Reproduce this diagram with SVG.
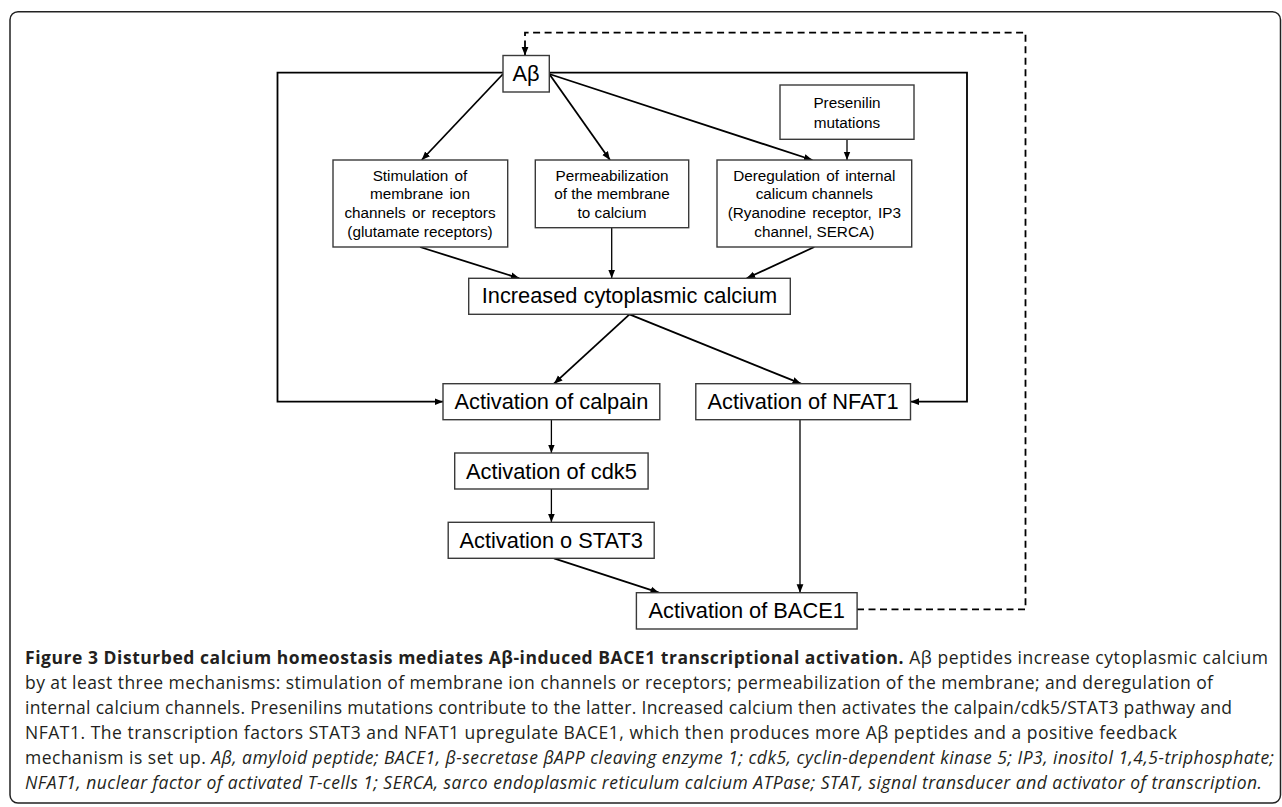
<svg xmlns="http://www.w3.org/2000/svg" width="1282" height="807" viewBox="0 0 1282 807">
<defs>
<marker id="ah" markerWidth="10" markerHeight="8" refX="8.5" refY="4" orient="auto" markerUnits="userSpaceOnUse"><path d="M0,0.6 L8.5,4 L0,7.4 z" fill="#000"/></marker>
<style>
.frame{fill:#fff;stroke:#222;stroke-width:1.5}
.box{fill:#fff;stroke:#3a3a3a;stroke-width:1.4}
.t{font-family:"Liberation Sans",Arial,sans-serif;fill:#000;text-anchor:middle}
.big{font-size:21.8px}
.sm{font-size:15.3px}
.ws{word-spacing:2px}
.c{fill:none;stroke:#000;stroke-width:1.8}
.thin{stroke-width:1.3}
.dash{stroke-dasharray:7 4.5}
.cap{font-family:"Open Sans","Noto Sans",sans-serif;font-size:17.5px;fill:#231f20}
.b{font-weight:bold}
.i{font-style:italic}
</style>
</defs>
<rect class="frame" x="10" y="11.7" width="1270.5" height="791.3" rx="8"/>
<g id="connectors">
<path class="c" d="M503,74 L421.7,160" marker-end="url(#ah)"/>
<path class="c" d="M549.3,74 L610,160" marker-end="url(#ah)"/>
<path class="c" d="M549.3,74 L812.4,160" marker-end="url(#ah)"/>
<path class="c thin" d="M847,139.3 L847,160" marker-end="url(#ah)"/>
<path class="c" d="M420,247 L519.3,278.3" marker-end="url(#ah)"/>
<path class="c thin" d="M611.7,227.7 L611.7,278.3" marker-end="url(#ah)"/>
<path class="c" d="M814.3,247 L746.7,278.3" marker-end="url(#ah)"/>
<path class="c" d="M629.5,314.3 L554,383.7" marker-end="url(#ah)"/>
<path class="c" d="M629.5,314.3 L801,383.7" marker-end="url(#ah)"/>
<path class="c" d="M503,72.7 L277.5,72.7 L277.5,401.7 L443,401.7" marker-end="url(#ah)"/>
<path class="c" d="M549.3,72.7 L967,72.7 L967,401.7 L910.5,401.7" marker-end="url(#ah)"/>
<path class="c thin" d="M551.4,419.7 L551.4,453" marker-end="url(#ah)"/>
<path class="c thin" d="M551.4,489 L551.4,522.3" marker-end="url(#ah)"/>
<path class="c" d="M554,558.3 L659,592.7" marker-end="url(#ah)"/>
<path class="c thin" d="M800,419.7 L800,592.7" marker-end="url(#ah)"/>
<path class="c dash" d="M857,609.3 L1025.5,609.3 L1025.5,32.7 L525,32.7 L525,55.5" marker-end="url(#ah)"/>
</g>
<g id="abeta">
<rect class="box" x="503" y="55.5" width="46.3" height="36.5"/>
<text class="t big" x="526" y="81">Aβ</text>
</g>
<g id="presenilin">
<rect class="box" x="780" y="85" width="134" height="54.3"/>
<text class="t sm" x="847" y="107.5">Presenilin</text>
<text class="t sm" x="847" y="128.3">mutations</text>
</g>
<g id="stimulation">
<rect class="box" x="333" y="160" width="174.7" height="87"/>
<text class="t sm ws" x="420" y="180.5">Stimulation of</text>
<text class="t sm ws" x="420" y="199.3">membrane ion</text>
<text class="t sm ws" x="420" y="218.2">channels or receptors</text>
<text class="t sm" x="420" y="237">(glutamate receptors)</text>
</g>
<g id="permeabilization">
<rect class="box" x="535.3" y="160" width="153.4" height="67.7"/>
<text class="t sm" x="612" y="180.5">Permeabilization</text>
<text class="t sm" x="612" y="199.3">of the membrane</text>
<text class="t sm" x="612" y="218.2">to calcium</text>
</g>
<g id="deregulation">
<rect class="box" x="717" y="160" width="194.7" height="87"/>
<text class="t sm ws" x="814.3" y="180.5">Deregulation of internal</text>
<text class="t sm" x="814.3" y="199.3">calicum channels</text>
<text class="t sm ws" x="814.3" y="218.2">(Ryanodine receptor, IP3</text>
<text class="t sm" x="814.3" y="237">channel, SERCA)</text>
</g>
<g id="increased">
<rect class="box" x="468.7" y="278.3" width="321.6" height="36"/>
<text class="t big" x="629.5" y="303.3">Increased cytoplasmic calcium</text>
</g>
<g id="calpain">
<rect class="box" x="443" y="383.7" width="216.8" height="36"/>
<text class="t big" x="551.4" y="409.3">Activation of calpain</text>
</g>
<g id="nfat1">
<rect class="box" x="695.8" y="383.7" width="214.7" height="36"/>
<text class="t big" x="803" y="409.3">Activation of NFAT1</text>
</g>
<g id="cdk5">
<rect class="box" x="454.7" y="453" width="193.4" height="36"/>
<text class="t big" x="551.4" y="478.5">Activation of cdk5</text>
</g>
<g id="stat3">
<rect class="box" x="448.2" y="522.3" width="206" height="36"/>
<text class="t big" x="551.2" y="547.8">Activation o STAT3</text>
</g>
<g id="bace1">
<rect class="box" x="636.4" y="592.7" width="220.7" height="36.3"/>
<text class="t big" x="746.7" y="617.8">Activation of BACE1</text>
</g>
<g id="caption">
<text class="cap" x="25" y="664" textLength="1243"><tspan class="b">Figure 3 Disturbed calcium homeostasis mediates Aβ-induced BACE1 transcriptional activation.</tspan> Aβ peptides increase cytoplasmic calcium</text>
<text class="cap" x="25" y="689" textLength="1188">by at least three mechanisms: stimulation of membrane ion channels or receptors; permeabilization of the membrane; and deregulation of</text>
<text class="cap" x="25" y="714" textLength="1207">internal calcium channels. Presenilins mutations contribute to the latter. Increased calcium then activates the calpain/cdk5/STAT3 pathway and</text>
<text class="cap" x="25" y="739" textLength="1152">NFAT1. The transcription factors STAT3 and NFAT1 upregulate BACE1, which then produces more Aβ peptides and a positive feedback</text>
<text class="cap" x="25" y="764" textLength="1249">mechanism is set up. <tspan class="i">Aβ, amyloid peptide; BACE1, β-secretase βAPP cleaving enzyme 1; cdk5, cyclin-dependent kinase 5; IP3, inositol 1,4,5-triphosphate;</tspan></text>
<text class="cap i" x="25" y="789" textLength="1237">NFAT1, nuclear factor of activated T-cells 1; SERCA, sarco endoplasmic reticulum calcium ATPase; STAT, signal transducer and activator of transcription.</text>
</g>
</svg>
